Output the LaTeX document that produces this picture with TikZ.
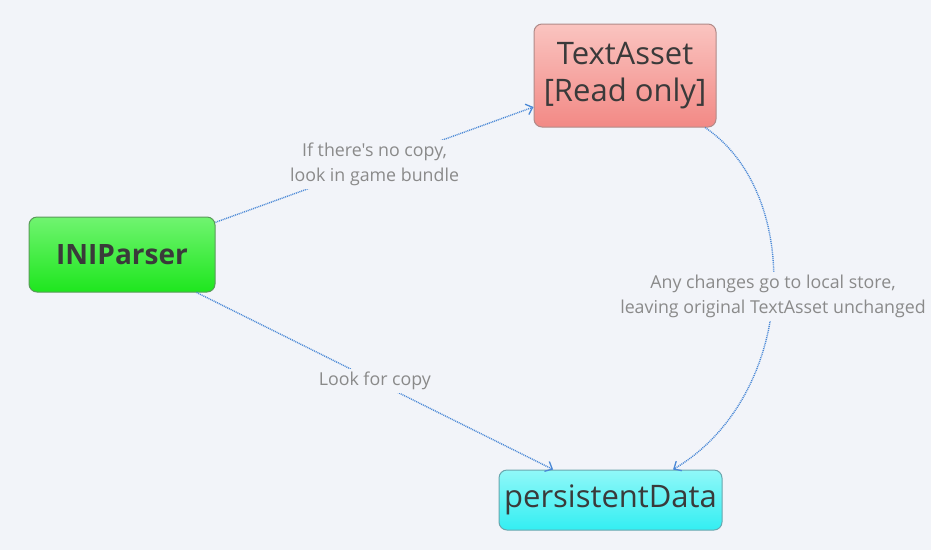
\documentclass[tikz,border=0pt]{standalone}
\usepackage{fontspec}
\setmainfont{Open Sans}[Ligatures=TeXOff]
\usetikzlibrary{arrows.meta}
\definecolor{bg}{HTML}{F2F4F9}
\definecolor{linecol}{HTML}{4A88D6}
\definecolor{lblcol}{HTML}{8A8A8A}
\definecolor{txtcol}{HTML}{3A3A3A}
\definecolor{redtop}{HTML}{FAC4C0}
\definecolor{redbot}{HTML}{F28985}
\definecolor{redbrd}{HTML}{B08A88}
\definecolor{grntop}{HTML}{70F470}
\definecolor{grnbot}{HTML}{1EE61E}
\definecolor{grnbrd}{HTML}{5A9A5A}
\definecolor{cyntop}{HTML}{90F8F8}
\definecolor{cynbot}{HTML}{33EEF2}
\definecolor{cynbrd}{HTML}{6AA6AE}
\tikzset{
  box/.style={rounded corners=8pt, draw, line width=1pt, text=txtcol, align=center, inner sep=0pt},
  conn/.style={draw=linecol, line width=1.4pt, dash pattern=on 1pt off 0.9pt,
    -{Straight Barb[length=6pt,width=11pt,line width=1.3pt]}},
  lbl/.style={fill=bg, text=lblcol, align=center, inner sep=3pt,
    font=\fontsize{17.8}{25}\selectfont}
}
\begin{document}
\begin{tikzpicture}[x=1pt,y=-1pt]
\fill[bg] (0,0) rectangle (931,550);
\useasboundingbox (0,0) rectangle (931,550);

\node[box, draw=redbrd, top color=redtop, bottom color=redbot,
  minimum width=182pt, minimum height=103pt,
  font=\fontsize{31}{37}\selectfont] (text) at (625,75.5) {TextAsset\\{}[Read only]};
\node[box, draw=grnbrd, top color=grntop, bottom color=grnbot,
  minimum width=186pt, minimum height=75pt,
  font=\fontsize{28}{34}\selectfont\bfseries] (ini) at (122,254.5) {INIParser};
\node[box, draw=cynbrd, top color=cyntop, bottom color=cynbot,
  minimum width=223pt, minimum height=60pt,
  font=\fontsize{31}{37}\selectfont] (pers) at (610.5,500) {persistentData};

\draw[conn] (ini.19) -- node[lbl] (l1) {If there's no copy,\\look in game bundle} (text.199);
\draw[conn] (ini.-27) -- node[lbl] (l2) {Look for copy} (pers.152);
\draw[conn] (text.-33) .. controls (805,195) and (797,396) ..
  node[lbl, pos=0.5] (l3) {Any changes go to local store,\\leaving original TextAsset unchanged} (pers.26);
\end{tikzpicture}
\end{document}
